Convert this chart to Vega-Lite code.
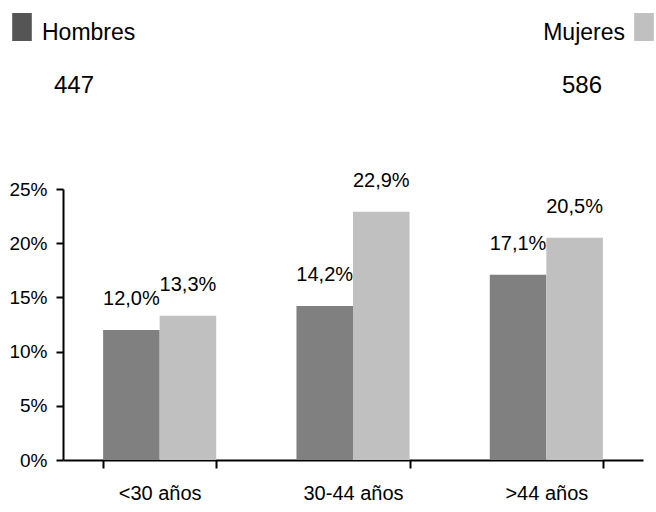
{
  "$schema": "https://vega.github.io/schema/vega-lite/v6.json",
  "autosize": {"type": "pad"},
  "padding": {"left": 8, "top": 0, "right": 2, "bottom": 4},
  "bounds": "flush",
  "spacing": 79,
  "config": {
    "view": {"stroke": null},
    "font": "Liberation Sans",
    "locale": {"number": {"decimal": ",", "thousands": ".", "grouping": [3], "currency": ["", " €"]}}
  },
  "resolve": {"scale": {"x": "independent", "y": "independent", "color": "independent"}},
  "datasets": {
    "totales": [
      {"sexo": "Hombres", "n": 447},
      {"sexo": "Mujeres", "n": 586}
    ],
    "porcentajes": [
      {"edad": "<30 años", "sexo": "Hombres", "pct": 0.120},
      {"edad": "<30 años", "sexo": "Mujeres", "pct": 0.133},
      {"edad": "30-44 años", "sexo": "Hombres", "pct": 0.142},
      {"edad": "30-44 años", "sexo": "Mujeres", "pct": 0.229},
      {"edad": ">44 años", "sexo": "Hombres", "pct": 0.171},
      {"edad": ">44 años", "sexo": "Mujeres", "pct": 0.205}
    ]
  },
  "vconcat": [
    {
      "width": 580,
      "height": 110,
      "data": {"name": "totales"},
      "encoding": {
        "x": {"field": "sexo", "type": "nominal", "scale": {"type": "point", "domain": ["Hombres", "Mujeres"], "range": [-41, 581], "padding": 0}, "axis": null}
      },
      "layer": [
        {
          "mark": {"type": "point", "shape": "M-0.7,-1H0.7V1H-0.7Z", "filled": true, "size": 784, "opacity": 1, "strokeWidth": 0},
          "encoding": {
            "y": {"datum": "nombre", "type": "ordinal", "scale": {"type": "point", "domain": ["nombre", "total"], "range": [27, 86], "padding": 0}, "axis": null},
            "fill": {"condition": {"test": "datum.sexo === 'Hombres'", "value": "#555555"}, "value": "#c0c0c0"}
          }
        },
        {
          "transform": [{"filter": "datum.sexo === 'Hombres'"}],
          "mark": {"type": "text", "align": "left", "baseline": "middle", "dx": 20, "dy": 6, "fontSize": 23, "color": "#000"},
          "encoding": {"y": {"datum": "nombre", "type": "ordinal"}, "text": {"field": "sexo"}}
        },
        {
          "transform": [{"filter": "datum.sexo === 'Mujeres'"}],
          "mark": {"type": "text", "align": "right", "baseline": "middle", "dx": -19, "dy": 6, "fontSize": 23, "color": "#000"},
          "encoding": {"y": {"datum": "nombre", "type": "ordinal"}, "text": {"field": "sexo"}}
        },
        {
          "transform": [{"filter": "datum.sexo === 'Hombres'"}],
          "mark": {"type": "text", "align": "center", "baseline": "middle", "dx": 52, "fontSize": 24, "color": "#000"},
          "encoding": {"y": {"datum": "total", "type": "ordinal"}, "text": {"field": "n"}}
        },
        {
          "transform": [{"filter": "datum.sexo === 'Mujeres'"}],
          "mark": {"type": "text", "align": "center", "baseline": "middle", "dx": -62, "fontSize": 24, "color": "#000"},
          "encoding": {"y": {"datum": "total", "type": "ordinal"}, "text": {"field": "n"}}
        }
      ]
    },
    {
      "width": 580,
      "height": 271,
      "data": {"name": "porcentajes"},
      "encoding": {
        "x": {
          "field": "edad", "type": "nominal", "sort": ["<30 años", "30-44 años", ">44 años"],
          "scale": {"paddingInner": 0.415, "paddingOuter": 0.2075},
          "axis": {"title": null, "labelAngle": 0, "tickBand": "extent", "tickSize": 8, "tickWidth": 2, "tickColor": "#000", "domainColor": "#000", "domainWidth": 2, "labelPadding": 15, "labelFontSize": 20, "labelColor": "#000"}
        },
        "xOffset": {"field": "sexo", "type": "nominal", "sort": ["Hombres", "Mujeres"], "scale": {"paddingInner": 0, "paddingOuter": 0}},
        "y": {
          "field": "pct", "type": "quantitative", "scale": {"domain": [0, 0.25]},
          "axis": {"title": null, "values": [0, 0.05, 0.1, 0.15, 0.2, 0.25], "format": ".0%", "grid": false, "tickSize": 7, "tickWidth": 2, "tickColor": "#000", "domainColor": "#000", "domainWidth": 2, "labelPadding": 9, "labelFontSize": 19, "labelColor": "#000"}
        }
      },
      "layer": [
        {
          "mark": {"type": "bar"},
          "encoding": {"color": {"field": "sexo", "type": "nominal", "scale": {"domain": ["Hombres", "Mujeres"], "range": ["#808080", "#c0c0c0"]}, "legend": null}}
        },
        {
          "mark": {"type": "text", "baseline": "alphabetic", "dy": -25, "fontSize": 20, "color": "#000"},
          "encoding": {"text": {"field": "pct", "format": ".1%"}}
        }
      ]
    }
  ]
}
